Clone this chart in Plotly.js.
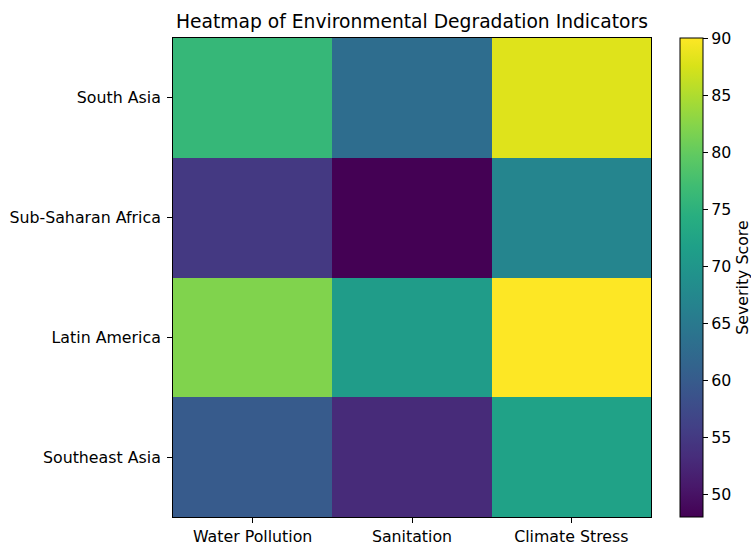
<!DOCTYPE html>
<html>
<head>
<meta charset="utf-8">
<script src="https://cdn.plot.ly/plotly-3.0.1.min.js"></script>
<style>
  html, body { margin: 0; padding: 0; background: #ffffff; }
  #chart { width: 751px; height: 545px; }
</style>
</head>
<body>
<div id="chart"></div>
<script>
// Regions (rows, top to bottom) and indicators (columns)
const regions = ["South Asia", "Sub-Saharan Africa", "Latin America", "Southeast Asia"];
const indicators = ["Water Pollution", "Sanitation", "Climate Stress"];

// Severity scores per region, in indicator order
const southAsia = [76, 63, 88];
const subSaharanAfrica = [55, 48, 67];
const latinAmerica = [82, 71, 90];
const southeastAsia = [60, 53, 72];

const colorbarTicks = [50, 55, 60, 65, 70, 75, 80, 85, 90];

const z = [southAsia, subSaharanAfrica, latinAmerica, southeastAsia];

const font = "DejaVu Sans, sans-serif";
const tickSize = 15.8;

const trace = {
  type: "heatmap",
  x: indicators,
  y: regions,
  z: z,
  colorscale: "Viridis",
  showscale: true,
  colorbar: {
    x: 1.0607,
    xanchor: "left",
    xref: "paper",
    y: 0.5,
    yanchor: "middle",
    len: 1,
    lenmode: "fraction",
    thickness: 23,
    thicknessmode: "pixels",
    outlinewidth: 1,
    outlinecolor: "#000000",
    borderwidth: 0,
    xpad: 0,
    ypad: 0,
    ticks: "outside",
    ticklen: 5,
    tickwidth: 1,
    tickcolor: "#000000",
    tickvals: colorbarTicks,
    ticktext: colorbarTicks.map(String),
    tickfont: { family: font, size: tickSize, color: "#000000" },
    title: {
      text: "Severity Score",
      side: "right",
      font: { family: font, size: tickSize, color: "#000000" }
    }
  }
};

const layout = {
  width: 751,
  height: 545,
  margin: { l: 173, r: 100, t: 38, b: 28, pad: 0, autoexpand: false },
  paper_bgcolor: "#ffffff",
  plot_bgcolor: "#ffffff",
  font: { family: font, size: tickSize, color: "#000000" },
  title: {
    text: "Heatmap of Environmental Degradation Indicators",
    x: 0.5,
    xref: "paper",
    xanchor: "center",
    y: 1 - 21 / 545,
    yref: "container",
    yanchor: "middle",
    font: { family: font, size: 18.7, color: "#000000" }
  },
  xaxis: {
    type: "category",
    categoryorder: "array",
    categoryarray: indicators,
    showgrid: false,
    zeroline: false,
    showline: true,
    linecolor: "#000000",
    linewidth: 1,
    mirror: true,
    ticks: "outside",
    ticklen: 5,
    tickwidth: 1,
    tickcolor: "#000000",
    tickfont: { family: font, size: tickSize, color: "#000000" },
    automargin: false,
    fixedrange: true
  },
  yaxis: {
    type: "category",
    categoryorder: "array",
    categoryarray: regions,
    autorange: "reversed",
    showgrid: false,
    zeroline: false,
    showline: true,
    linecolor: "#000000",
    linewidth: 1,
    mirror: true,
    ticks: "outside",
    ticklen: 5,
    tickwidth: 1,
    tickcolor: "#000000",
    ticklabelstandoff: 3,
    tickfont: { family: font, size: tickSize, color: "#000000" },
    automargin: false,
    fixedrange: true
  }
};

Plotly.newPlot("chart", [trace], layout, { displayModeBar: false, staticPlot: true });
</script>
</body>
</html>
